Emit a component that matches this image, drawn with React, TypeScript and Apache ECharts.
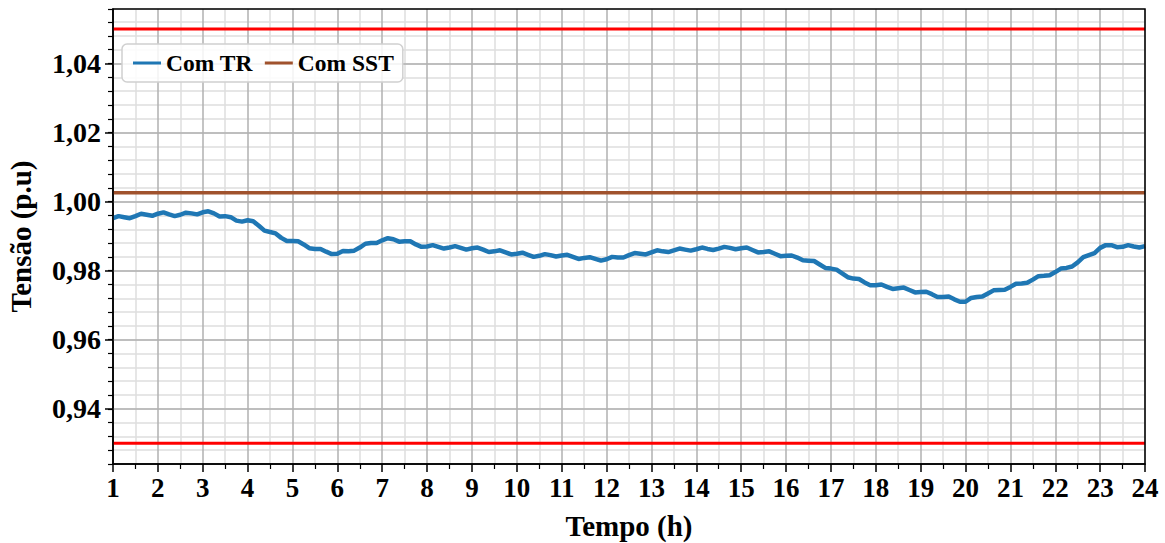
import React, { useEffect, useRef } from "react";
import * as echarts from "echarts";

const hours = [
  1, 1.125, 1.25, 1.375, 1.5, 1.625, 1.75, 1.875, 2, 2.125, 2.25, 2.375, 2.5, 2.625, 2.75, 2.875,
  3, 3.125, 3.25, 3.375, 3.5, 3.625, 3.75, 3.875, 4, 4.125, 4.25, 4.375, 4.5, 4.625, 4.75, 4.875,
  5, 5.125, 5.25, 5.375, 5.5, 5.625, 5.75, 5.875, 6, 6.125, 6.25, 6.375, 6.5, 6.625, 6.75, 6.875,
  7, 7.125, 7.25, 7.375, 7.5, 7.625, 7.75, 7.875, 8, 8.125, 8.25, 8.375, 8.5, 8.625, 8.75, 8.875,
  9, 9.125, 9.25, 9.375, 9.5, 9.625, 9.75, 9.875, 10, 10.125, 10.25, 10.375, 10.5, 10.625, 10.75, 10.875,
  11, 11.125, 11.25, 11.375, 11.5, 11.625, 11.75, 11.875, 12, 12.125, 12.25, 12.375, 12.5, 12.625, 12.75, 12.875,
  13, 13.125, 13.25, 13.375, 13.5, 13.625, 13.75, 13.875, 14, 14.125, 14.25, 14.375, 14.5, 14.625, 14.75, 14.875,
  15, 15.125, 15.25, 15.375, 15.5, 15.625, 15.75, 15.875, 16, 16.125, 16.25, 16.375, 16.5, 16.625, 16.75, 16.875,
  17, 17.125, 17.25, 17.375, 17.5, 17.625, 17.75, 17.875, 18, 18.125, 18.25, 18.375, 18.5, 18.625, 18.75, 18.875,
  19, 19.125, 19.25, 19.375, 19.5, 19.625, 19.75, 19.875, 20, 20.125, 20.25, 20.375, 20.5, 20.625, 20.75, 20.875,
  21, 21.125, 21.25, 21.375, 21.5, 21.625, 21.75, 21.875, 22, 22.125, 22.25, 22.375, 22.5, 22.625, 22.75, 22.875,
  23, 23.125, 23.25, 23.375, 23.5, 23.625, 23.75, 23.875, 24,
];

const comTR = [
  0.9952, 0.9958, 0.9955, 0.9952, 0.9958, 0.9965, 0.9962, 0.9959, 0.9965, 0.9969, 0.9963, 0.9958, 0.9962, 0.9968, 0.9966, 0.9963,
  0.9969, 0.9972, 0.9966, 0.9957, 0.9958, 0.9955, 0.9945, 0.9942, 0.9946, 0.9943, 0.993, 0.9916, 0.9912, 0.9908, 0.9895, 0.9886,
  0.9886, 0.9885, 0.9876, 0.9865, 0.9863, 0.9863, 0.9855, 0.9848, 0.9849, 0.9857, 0.9856, 0.9858, 0.9867, 0.9878, 0.988, 0.988,
  0.9888, 0.9894, 0.9891, 0.9884, 0.9885, 0.9885, 0.9876, 0.9869, 0.987, 0.9874, 0.9869, 0.9864, 0.9867, 0.9871, 0.9866, 0.9861,
  0.9865, 0.9867, 0.9861, 0.9854, 0.9856, 0.9859, 0.9853, 0.9847, 0.9849, 0.9852, 0.9846, 0.984, 0.9843, 0.9848, 0.9845, 0.9841,
  0.9844, 0.9846, 0.984, 0.9834, 0.9837, 0.9839, 0.9834, 0.9829, 0.9833, 0.984, 0.9838, 0.9838, 0.9845, 0.9851, 0.9849, 0.9847,
  0.9853, 0.9859, 0.9856, 0.9854, 0.9859, 0.9864, 0.9861, 0.9858, 0.9862, 0.9867, 0.9863, 0.986, 0.9864, 0.9869, 0.9866, 0.9862,
  0.9865, 0.9867, 0.986, 0.9853, 0.9854, 0.9856, 0.9849, 0.9842, 0.9843, 0.9844, 0.9838, 0.983, 0.9829, 0.9828, 0.9818, 0.9808,
  0.9806, 0.9803, 0.9792, 0.9781, 0.9777, 0.9776, 0.9766, 0.9758, 0.9758, 0.976, 0.9753, 0.9747, 0.9749, 0.9751, 0.9744, 0.9737,
  0.9738, 0.9739, 0.9732, 0.9724, 0.9724, 0.9725, 0.9717, 0.971, 0.971, 0.9721, 0.9724, 0.9725, 0.9734, 0.9743, 0.9744, 0.9745,
  0.9753, 0.9762, 0.9763, 0.9765, 0.9774, 0.9784, 0.9785, 0.9787, 0.9796, 0.9806, 0.9808, 0.9812, 0.9824, 0.9839, 0.9845, 0.9851,
  0.9866, 0.9874, 0.9874, 0.9868, 0.9869, 0.9874, 0.987, 0.9867, 0.9871,
];

const comSST = 1.0026;
const limitUpper = 1.05;
const limitLower = 0.93;
const xRange = [1, 24];
const yMajorTicks = [0.94, 0.96, 0.98, 1.0, 1.02, 1.04];

const FONT = "'Liberation Serif', 'Times New Roman', serif";

export default function App() {
  const ref = useRef<HTMLDivElement>(null);
  useEffect(() => {
    if (!ref.current) return;
    const chart = echarts.init(ref.current, null, { renderer: "svg" });
    const yMin = 0.924;
    const yMax = 1.0558;
    const labelStyle = { fontFamily: FONT, fontWeight: "bold" as const, fontSize: 27, color: "#000" };
    chart.setOption({
      animation: false,
      grid: {
        left: 113,
        right: 20,
        top: 9,
        bottom: 79,
        show: true,
        borderColor: "#000",
        borderWidth: 1.5,
        backgroundColor: "transparent",
        outerBoundsMode: "none",
        containLabel: false,
        z: 10,
      },
      legend: {
        data: ["Com TR", "Com SST"],
        left: 122,
        top: 44,
        orient: "horizontal",
        itemWidth: 28,
        itemHeight: 3,
        itemGap: 12,
        padding: [7, 9, 7, 11],
        borderColor: "#d0d0d0",
        borderWidth: 1.5,
        borderRadius: 5,
        backgroundColor: "rgba(255,255,255,0.85)",
        textStyle: { fontFamily: FONT, fontWeight: "bold", fontSize: 23.5, color: "#000" },
        icon: "rect",
        z: 20,
      },
      xAxis: {
        type: "value",
        min: xRange[0],
        max: xRange[1],
        interval: 1,
        name: "Tempo (h)",
        nameLocation: "middle",
        nameGap: 47,
        nameTextStyle: { ...labelStyle, fontSize: 29 },
        axisLine: { show: true, onZero: false, lineStyle: { color: "#000", width: 1.5 } },
        axisTick: { show: true, inside: false, length: 8, lineStyle: { color: "#000", width: 1.5 } },
        minorTick: { show: true, splitNumber: 2, length: 5, lineStyle: { color: "#000", width: 1.2 } },
        axisLabel: { ...labelStyle, margin: 10 },
        splitLine: { show: true, lineStyle: { color: "#b0b0b0", width: 1.5 } },
        minorSplitLine: { show: true, lineStyle: { color: "#dedede", width: 1.5 } },
      },
      yAxis: [
        {
          type: "value",
          min: yMin,
          max: yMax,
          interval: 0.004,
          axisLine: { show: true, lineStyle: { color: "#000", width: 1.5 } },
          axisTick: { show: true, length: 5, lineStyle: { color: "#000", width: 1.2 } },
          axisLabel: { show: false },
          splitLine: { show: true, lineStyle: { color: "#dedede", width: 1.5 } },
        },
        {
          type: "value",
          min: yMin,
          max: yMax,
          position: "left",
          offset: 0,
          name: "Tensão (p.u)",
          nameLocation: "middle",
          nameGap: 78,
          nameTextStyle: { ...labelStyle, fontSize: 29 },
          axisLine: { show: false },
          axisTick: { show: true, length: 8, customValues: yMajorTicks, lineStyle: { color: "#000", width: 1.5 } },
          axisLabel: {
            ...labelStyle,
            fontSize: 28,
            margin: 12,
            customValues: yMajorTicks,
            formatter: (v: number) => v.toFixed(2).replace(".", ","),
          },
          splitLine: { show: false },
        },
      ],
      series: [
        {
          name: "majorGrid",
          type: "line",
          data: [],
          silent: true,
          z: 1,
          markLine: {
            silent: true,
            symbol: ["none", "none"],
            label: { show: false },
            lineStyle: { color: "#b0b0b0", width: 1.5, type: "solid" },
            emphasis: { disabled: true },
            data: yMajorTicks.map((v) => ({ yAxis: v })),
          },
        },
        {
          name: "Limite superior",
          type: "line",
          data: xRange.map((x) => [x, limitUpper]),
          showSymbol: false,
          lineStyle: { color: "#ff0000", width: 3 },
          itemStyle: { color: "#ff0000" },
          silent: true,
          z: 3,
        },
        {
          name: "Limite inferior",
          type: "line",
          data: xRange.map((x) => [x, limitLower]),
          showSymbol: false,
          lineStyle: { color: "#ff0000", width: 3 },
          itemStyle: { color: "#ff0000" },
          silent: true,
          z: 3,
        },
        {
          name: "Com SST",
          type: "line",
          data: xRange.map((x) => [x, comSST]),
          showSymbol: false,
          lineStyle: { color: "#a0522d", width: 3.5 },
          itemStyle: { color: "#a0522d" },
          z: 4,
        },
        {
          name: "Com TR",
          type: "line",
          data: hours.map((h, i) => [h, comTR[i]]),
          showSymbol: false,
          lineStyle: { color: "#1f77b4", width: 4.5 },
          itemStyle: { color: "#1f77b4" },
          z: 5,
        },
      ],
    });
    return () => chart.dispose();
  }, []);
  return (
    <div
      ref={ref}
      style={{ position: "absolute", left: 0, top: 0, width: 1165, height: 543, background: "#fff" }}
    />
  );
}
